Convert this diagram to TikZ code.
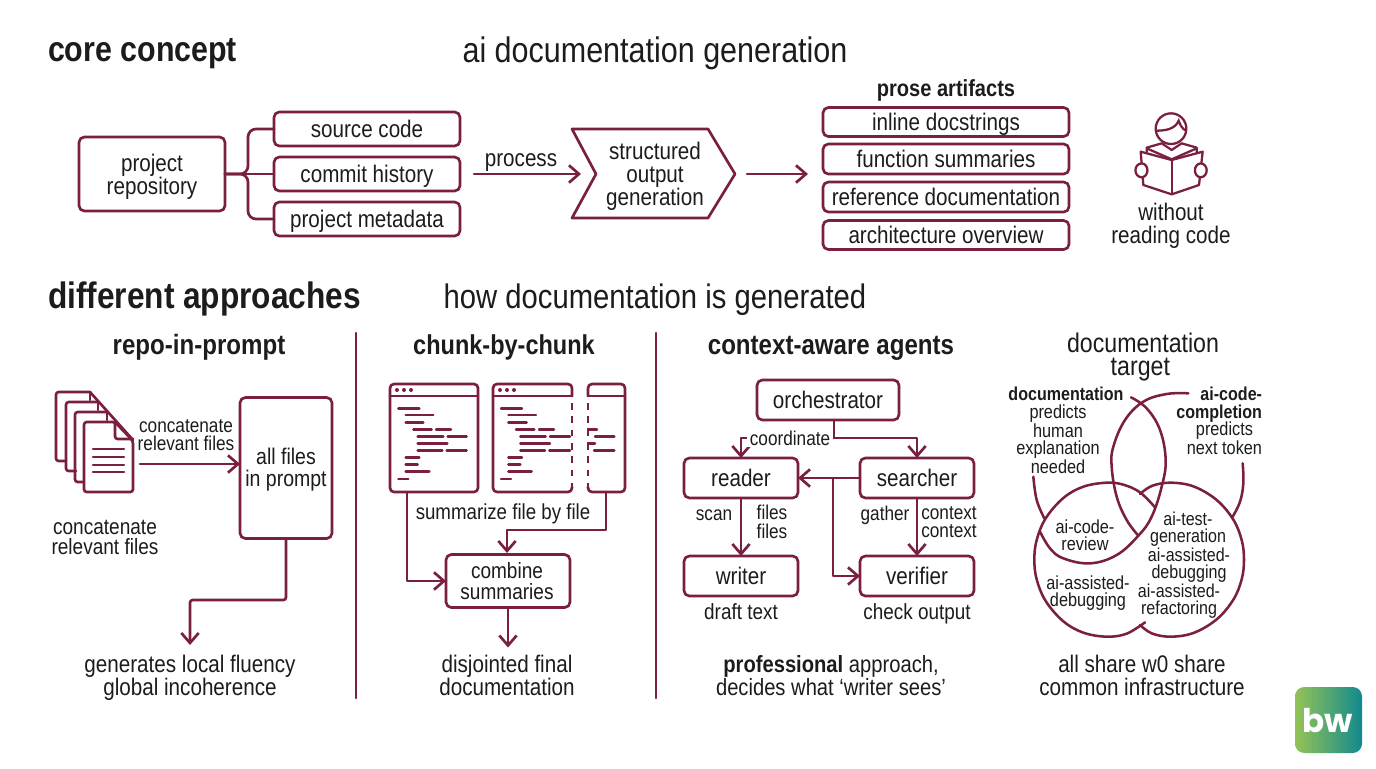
\documentclass[tikz,border=0pt]{standalone}
\usepackage{fontspec}
\setmainfont[FakeStretch=0.86]{Liberation Sans}
\newfontfamily\logofont{Poppins}
\usetikzlibrary{arrows.meta,calc}
\definecolor{wine}{HTML}{7A1F42}
\definecolor{ink}{HTML}{1C1C1C}
\definecolor{logoL}{HTML}{94C356}
\definecolor{logoR}{HTML}{12898F}
\newcommand{\pxfont}[2]{\fontsize{#1}{#2}\selectfont}
\tikzset{
  wineline/.style={draw=wine,line width=2pt,line join=round,line cap=round},
  one/.style 2 args={text height=#1pt,text depth=#2pt},
  box/.style={wineline,one={14.8}{2},rounded corners=4pt,outer sep=0pt,inner sep=0pt,align=center,text=ink,font=\pxfont{18}{17.2}},
  wh/.style 2 args={minimum width=#1*0.75pt,minimum height=#2*0.75pt},
  conn/.style={wineline},
  arr/.style={wineline,-{Straight Barb[length=7.5pt,width=13pt,line width=2pt]}},
  txt/.style={inner sep=0pt,outer sep=0pt,align=center,text=ink,font=\pxfont{18}{17.2}},
  small/.style={txt,font=\pxfont{15}{14}},
  vtxt/.style={inner sep=0pt,outer sep=0pt,align=center,text=ink,font=\pxfont{14.2}{13}},
  title/.style={txt,font=\bfseries\pxfont{26.5}{28}},
  subtitle/.style={txt,font=\pxfont{26.6}{28}},
  head/.style={txt,one={17.2}{2.3},font=\bfseries\pxfont{21}{22}},
  code/.style={draw=wine,line width=1.8pt,line cap=round},
  venn/.style={wineline,line width=1.9pt},
  dashside/.style={wineline,dash pattern=on 5pt off 5pt,line cap=butt},
}
\begin{document}
\begin{tikzpicture}[x=0.75pt,y=-0.75pt]
\useasboundingbox (0,0) rectangle (1376,768);
\fill[white] (0,0) rectangle (1376,768);
% titles
\node[title,one={21.7}{2.9},anchor=west] (t1) at (48,49) {core concept};
\node[subtitle,one={21.8}{2.9}] (t2) at (655,50) {ai documentation generation};
\node[title,one={22.6}{3},anchor=west,font=\bfseries\pxfont{27.6}{28}] (t3) at (48,295) {different approaches};
\node[subtitle,one={20.9}{2.8},font=\pxfont{25.5}{26}] (t4) at (655,296) {how documentation is generated};
% top row
\node[box,wh={146}{74}] (repo) at (152,174) {};
\node[txt] (repotxt) at (152,177) {project\\repository};
\node[box,wh={186}{34}] (src) at (367,129) {source code};
\node[box,wh={186}{34}] (hist) at (367,174) {commit history};
\node[box,wh={186}{34}] (meta) at (367,219) {project metadata};
\draw[conn,rounded corners=6pt] (repo.east) -- ++(23,0) |- (src.west);
\draw[conn,rounded corners=6pt] (repo.east) -- ++(23,0) |- (meta.west);
\draw[conn] (repo.east) -- (hist.west);
\node[txt,one={14.8}{2}] (proc) at (521,158) {process};
\coordinate (procfrom) at (474,174);
\coordinate (c1) at (572,129);\coordinate (c2) at (708,129);\coordinate (c3) at (735,174);
\coordinate (c4) at (708,218);\coordinate (c5) at (572,218);\coordinate (c6) at (596,174);
\draw[conn] (c1) -- (c2) -- (c3) -- (c4) -- (c5) -- (c6) -- cycle;
\node[txt] (gen) at (655,176) {structured\\output\\generation};
\coordinate (procto) at (581,174);
\draw[arr] (procfrom) -- (procto);
\coordinate (afterfrom) at (747,174);
\coordinate (afterto) at (808,174);
\draw[arr] (afterfrom) -- (afterto);
\node[txt,one={14.4}{1.9},font=\bfseries\pxfont{17.5}{19}] (prose) at (946,88) {prose artifacts};
\node[box,wh={246}{29}] (p1) at (946,122) {inline docstrings};
\node[box,wh={246}{30}] (p2) at (946,159) {function summaries};
\node[box,wh={246}{30}] (p3) at (946,197) {reference documentation};
\node[box,wh={246}{29}] (p4) at (946,235) {architecture overview};
% reader icon
\begin{scope}[shift={(1120,100)},x=0.25pt,y=-0.25pt]
  \draw[wine,line width=1.7pt] (153,86) circle [radius=46];
  \draw[wine,line width=1.7pt] (110,92) .. controls (135,92) and (165,88) .. (176,62) .. controls (180,75) and (188,88) .. (198,92);
  \draw[wine,line width=1.7pt,line join=round] (155,180) -- (62,155) -- (70,255) -- (155,283) -- (237,255) -- (248,155) -- cycle;
  \draw[wine,line width=1.7pt] (155,180) -- (155,283);
  \draw[wine,line width=1.7pt,line join=round] (80,158) -- (80,143) -- (125,130) -- (155,150) -- (185,130) -- (230,143) -- (230,158);
  \draw[wine,line width=1.7pt] (80,145) -- (155,178) -- (230,145);
  \draw[wine,line width=1.7pt,fill=white] (65,190) .. controls (40,192) and (40,230) .. (65,232) .. controls (88,230) and (88,192) .. (65,190);
  \draw[wine,line width=1.7pt,fill=white] (242,190) .. controls (219,192) and (219,230) .. (242,232) .. controls (266,230) and (266,192) .. (242,190);
\end{scope}
\node[txt] (nocode) at (1171,226) {without\\reading code};
% dividers
\coordinate (d1a) at (356,333);\coordinate (d1b) at (356,698);
\coordinate (d2a) at (656,333);\coordinate (d2b) at (656,698);
\draw[conn] (d1a) -- (d1b);
\draw[conn] (d2a) -- (d2b);
% headings
\node[head] (h1) at (199,345) {repo-in-prompt};
\node[head,font=\bfseries\pxfont{20.5}{22}] (h2) at (504,345) {chunk-by-chunk};
\node[head] (h3) at (831,345) {context-aware agents};
\node[txt,font=\pxfont{20.2}{17.4}] (h4) at (1143,357) {documentation\\target\hspace*{4pt}};
% repo-in-prompt: page stack
\foreach \dx/\dy/\b/\e in {56/392/461/90,66/402/471/98,75/412/482/107}{
  \draw[conn,rounded corners=2pt] (\dx+10,\b) -- (\dx,\b) -- (\dx,\dy) -- (\e,\dy);
  \draw[conn] (\e,\dy) -- (\e,\dy+8);
}
\coordinate (diagA) at (90,392);\coordinate (diagB) at (133,440);
\draw[conn] (diagA) -- (diagB);
\draw[conn,fill=white,rounded corners=2pt] (84,422) -- (115,422) -- (133,441) -- (133,492) -- (84,492) -- cycle;
\draw[conn,rounded corners=2pt] (115,422) -- (115,439) -- (133,439);
\foreach \yy in {449,457,465,472}{\draw[code] (93,\yy) -- (124,\yy);}
\coordinate (docsout) at (140,464);
\node[box,wh={92}{141}] (allf) at (286,468) {};
\node[txt,font=\pxfont{17}{16}] (alltxt) at (286,469.5) {all files\\in prompt};
\draw[arr] (docsout) -- (allf.west |- docsout);
\node[small] (lab1) at (186,435) {concatenate\\relevant files};
\node[small,font=\pxfont{16.6}{15}] (lab2) at (105,537.5) {concatenate\\relevant files};
\coordinate (lc) at (190,645);
\draw[arr,rounded corners=2pt] (allf.south) -- (286,600) -- (190,600) -- (lc);
\node[txt] (r1) at (190,678) {generates local fluency\\global incoherence};
% chunk windows
\draw[conn,rounded corners=3pt] (390,384) rectangle (478,492);
\draw[conn] (390,396) -- (478,396);
\foreach \xx in {397,404,411}{\fill[wine] (\xx,390) circle [radius=2];}
\draw[conn,rounded corners=3pt] (572,396) -- (572,384) -- (493,384) -- (493,492) -- (572,492) -- (572,487);
\draw[conn] (493,396) -- (572,396);
\foreach \xx in {500,507,514}{\fill[wine] (\xx,390) circle [radius=2];}
\draw[dashside] (572,403) -- (572,487);
\draw[conn,rounded corners=3pt] (588,396) -- (588,384) -- (625,384) -- (625,492) -- (588,492) -- (588,487);
\draw[conn] (588,396) -- (625,396);
\draw[dashside] (588,403) -- (588,487);
\foreach \a/\b/\y in {70/133/115,92/175/135,92/145/157,115/170/178,183/228/178,128/205/199,218/275/199,128/217/220,128/202/241,215/275/241,92/133/262,92/128/284,92/163/305,70/100/327}{
  \draw[code] (375+\a/3,370+\y/3) -- (375+\b/3,370+\y/3);
}
\foreach \a/\b/\y in {378/441/115,400/483/135,400/455/157,423/478/178,492/537/178,436/512/199,525/585/199,436/525/220,436/510/241,523/585/241,400/441/262,400/436/284,400/470/305,378/408/327}{
  \draw[code] (375+\a/3,370+\y/3) -- (375+\b/3,370+\y/3);
}
\foreach \a/\b/\y in {660/718/199,657/718/241}{
  \draw[code] (375+\a/3,370+\y/3) -- (375+\b/3,370+\y/3);
}
\draw[code] (588,435) -- (588,429.5) -- (597,429.5);
\draw[code] (588,449) -- (588,443.5) -- (595,443.5);
\coordinate (w1out) at (407,492);
\coordinate (w3out) at (606,492);
\node[small,one={13.4}{1.8},font=\pxfont{16.3}{15}] (sum) at (503,512) {summarize file by file};
\node[box,wh={124}{53}] (comb) at (508,581) {};
\node[txt,font=\pxfont{16.6}{15.6}] (combtxt) at (507,581) {combine\\summaries};
\draw[arr] (w1out) |- (comb.west);
\draw[arr] (w3out) -- (606,530) -- (507,530) -- (507,553);
\draw[arr] (comb.south) -- ++(0,40);
\node[txt] (r2) at (507,675) {disjointed final\\documentation};
% agents
\node[box,wh={142}{40}] (orch) at (828,400) {orchestrator};
\node[box,wh={114}{40}] (reader) at (741,478) {reader};
\node[box,wh={114}{40}] (search) at (917,478) {searcher};
\node[box,wh={114}{40}] (writer) at (741,576) {writer};
\node[box,wh={114}{40}] (verif) at (917,576) {verifier};
\coordinate (orout) at (834,420);
\draw[arr] (orout) -- (834,438) -| (search.north);
\draw[arr] (orout) -- (834,438) -| (reader.north);
\node[small,one={12.3}{1.65},fill=white,inner xsep=2pt,inner ysep=0pt] (coord) at (790,438) {coordinate};
\draw[arr] (search.west) -- (reader.east);
\coordinate (jn) at (833,478);
\draw[arr] (jn) |- (verif.west);
\draw[arr] (reader.south) -- (writer.north);
\draw[arr] (search.south) -- (verif.north);
\node[small,one={12.3}{1.65}] (s1) at (714,513) {scan};
\node[small,font=\pxfont{15}{14}] (s2) at (772,522) {files\\files};
\node[small,one={12.3}{1.65}] (s3) at (885,513) {gather};
\node[small,font=\pxfont{15}{14}] (s4) at (949,522) {context\\context};
\node[small,one={13.5}{1.8},font=\pxfont{16.5}{15}] (s5) at (741,612) {draft text};
\node[small,one={13.5}{1.8},font=\pxfont{16.5}{15}] (s6) at (917,612) {check output};
\node[txt,font=\pxfont{17.6}{17.2}] (r3) at (831,675.5) {\textbf{professional} approach,\\decides what ‘writer sees’};
% venn
\begin{scope}[shift={(1000,370)},x=0.25pt,y=-0.25pt]
\draw[venn] plot[smooth,tension=0.65] coordinates {(393,82)(440,115)(480,180)(497,270)(485,350)(455,440)(415,497)(350,555)(270,580)(190,565)(150,535)(120,485)};
\draw[venn] plot[smooth,tension=0.65] coordinates {(100,320)(110,390)(133,445)};
\draw[venn] plot[smooth,tension=0.65] coordinates {(565,70)(500,72)(430,95)(375,150)(340,230)(335,290)(350,380)(380,450)(415,497)};
\draw[venn] plot[smooth,tension=0.65] coordinates {(728,280)(730,340)(720,395)(698,440)};
\draw[venn] plot[smooth,tension=0.6] coordinates {(465,412)(420,367)(370,344)(320,338)(250,350)(190,384)(137,445)(110,510)(103,569)(110,628)(137,693)(190,754)(250,788)(320,800)(380,791)(435,757)};
\draw[venn] plot[smooth,tension=0.6] coordinates {(420,372)(455,348)(510,338)(580,349)(650,390)(700,449)(725,510)(732,569)(725,628)(700,689)(650,748)(580,789)(510,800)(455,790)(420,765)};
\end{scope}
\node[vtxt,one={11.5}{1.5},font=\bfseries\pxfont{14}{13}] (v1a) at (1066,394) {documentation};
\node[vtxt] (v1) at (1058,439.5) {predicts\\human\\explanation\\needed};
\node[vtxt,font=\bfseries\pxfont{14}{13},align=right,anchor=east] (v2a) at (1262,404.5) {ai-code-\\completion};
\node[vtxt,anchor=east,align=center] (v2) at (1262,438.5) {predicts\\next token};
\node[vtxt] (v3) at (1085,535) {ai-code-\\review};
\node[vtxt,font=\pxfont{14}{12.4}] (v4a) at (1188,529) {ai-test-\\generation};
\node[vtxt,font=\pxfont{14}{12.4}] (v4b) at (1189,565) {ai-assisted-\\debugging};
\node[vtxt,font=\pxfont{14}{12.4}] (v4c) at (1179,601) {ai-assisted-\\refactoring};
\node[vtxt] (v5) at (1088,593) {ai-assisted-\\debugging};
\node[txt] (r4) at (1142,675) {all share w0 share\\common infrastructure};
% logo
\shade[left color=logoL,right color=logoR,rounded corners=7pt] (1295,687) rectangle (1362,753);
\node[inner sep=0pt,text=white,font=\logofont\bfseries\pxfont{24.5}{26}] (logo) at (1328,721) {bw};
\end{tikzpicture}
\end{document}
